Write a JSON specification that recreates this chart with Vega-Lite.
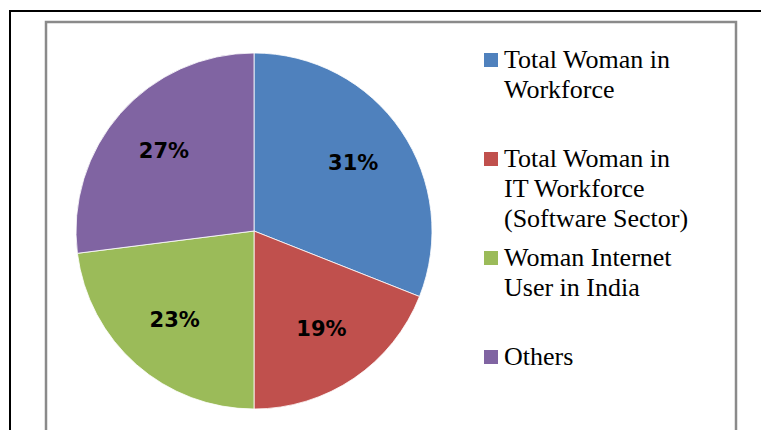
{
  "$schema": "https://vega.github.io/schema/vega-lite/v6.json",
  "width": 690,
  "height": 430,
  "autosize": "none",
  "padding": {"left": 46, "top": 22, "right": 25, "bottom": 0},
  "background": "white",
  "view": {"stroke": "#8a8a8a", "strokeWidth": 2.5},
  "data": {
    "values": [
      {"category": "Total Woman in Workforce", "share": 31, "label": "31%", "k": 1},
      {"category": "Total Woman in IT Workforce (Software Sector)", "share": 19, "label": "19%", "k": 2},
      {"category": "Woman Internet User in India", "share": 23, "label": "23%", "k": 3},
      {"category": "Others", "share": 27, "label": "27%", "k": 4}
    ]
  },
  "layer": [
    {
      "data": {"values": [{"frame": 1}]},
      "mark": {"type": "rect", "fillOpacity": 0, "stroke": "black", "strokeWidth": 2, "clip": false},
      "encoding": {
        "x": {"value": -36},
        "x2": {"value": 800},
        "y": {"value": -11},
        "y2": {"value": 600}
      }
    },
    {
      "mark": {"type": "arc", "outerRadius": 178, "stroke": "white", "strokeWidth": 0.8},
      "encoding": {
        "theta": {"field": "share", "type": "quantitative", "stack": true},
        "order": {"field": "k", "type": "quantitative"},
        "x": {"value": 208},
        "y": {"value": 209},
        "color": {
          "field": "category",
          "type": "nominal",
          "scale": {
            "domain": ["Total Woman in Workforce", "Total Woman in IT Workforce (Software Sector)", "Woman Internet User in India", "Others"],
            "range": ["#4F81BD", "#C0504D", "#9BBB59", "#8064A2"]
          },
          "legend": {
            "title": null,
            "orient": "none",
            "legendX": 432,
            "legendY": 25,
            "padding": 0,
            "symbolType": "square",
            "symbolSize": 196,
            "symbolStrokeWidth": 0,
            "labelFont": "Liberation Serif",
            "labelFontSize": 26,
            "labelColor": "black",
            "labelOffset": 0,
            "labelLimit": 400,
            "labelBaseline": "middle",
            "gridAlign": "all",
            "columns": 1,
            "rowPadding": 13,
            "labelExpr": "datum.label == 'Total Woman in Workforce' ? ['Total Woman in', 'Workforce'] : datum.label == 'Total Woman in IT Workforce (Software Sector)' ? ['Total Woman in', 'IT Workforce', '(Software Sector)'] : datum.label == 'Woman Internet User in India' ? ['Woman Internet', 'User in India'] : datum.label"
          }
        }
      }
    },
    {
      "mark": {"type": "text", "radius": 120, "font": "DejaVu Sans", "fontWeight": "bold", "fontSize": 21, "color": "black", "align": "center", "baseline": "middle"},
      "encoding": {
        "theta": {"field": "share", "type": "quantitative", "stack": true},
        "order": {"field": "k", "type": "quantitative"},
        "x": {"value": 208},
        "y": {"value": 209},
        "text": {"field": "label", "type": "nominal"}
      }
    }
  ],
  "config": {
    "style": {"guide-label": {"lineHeight": 30}}
  }
}
